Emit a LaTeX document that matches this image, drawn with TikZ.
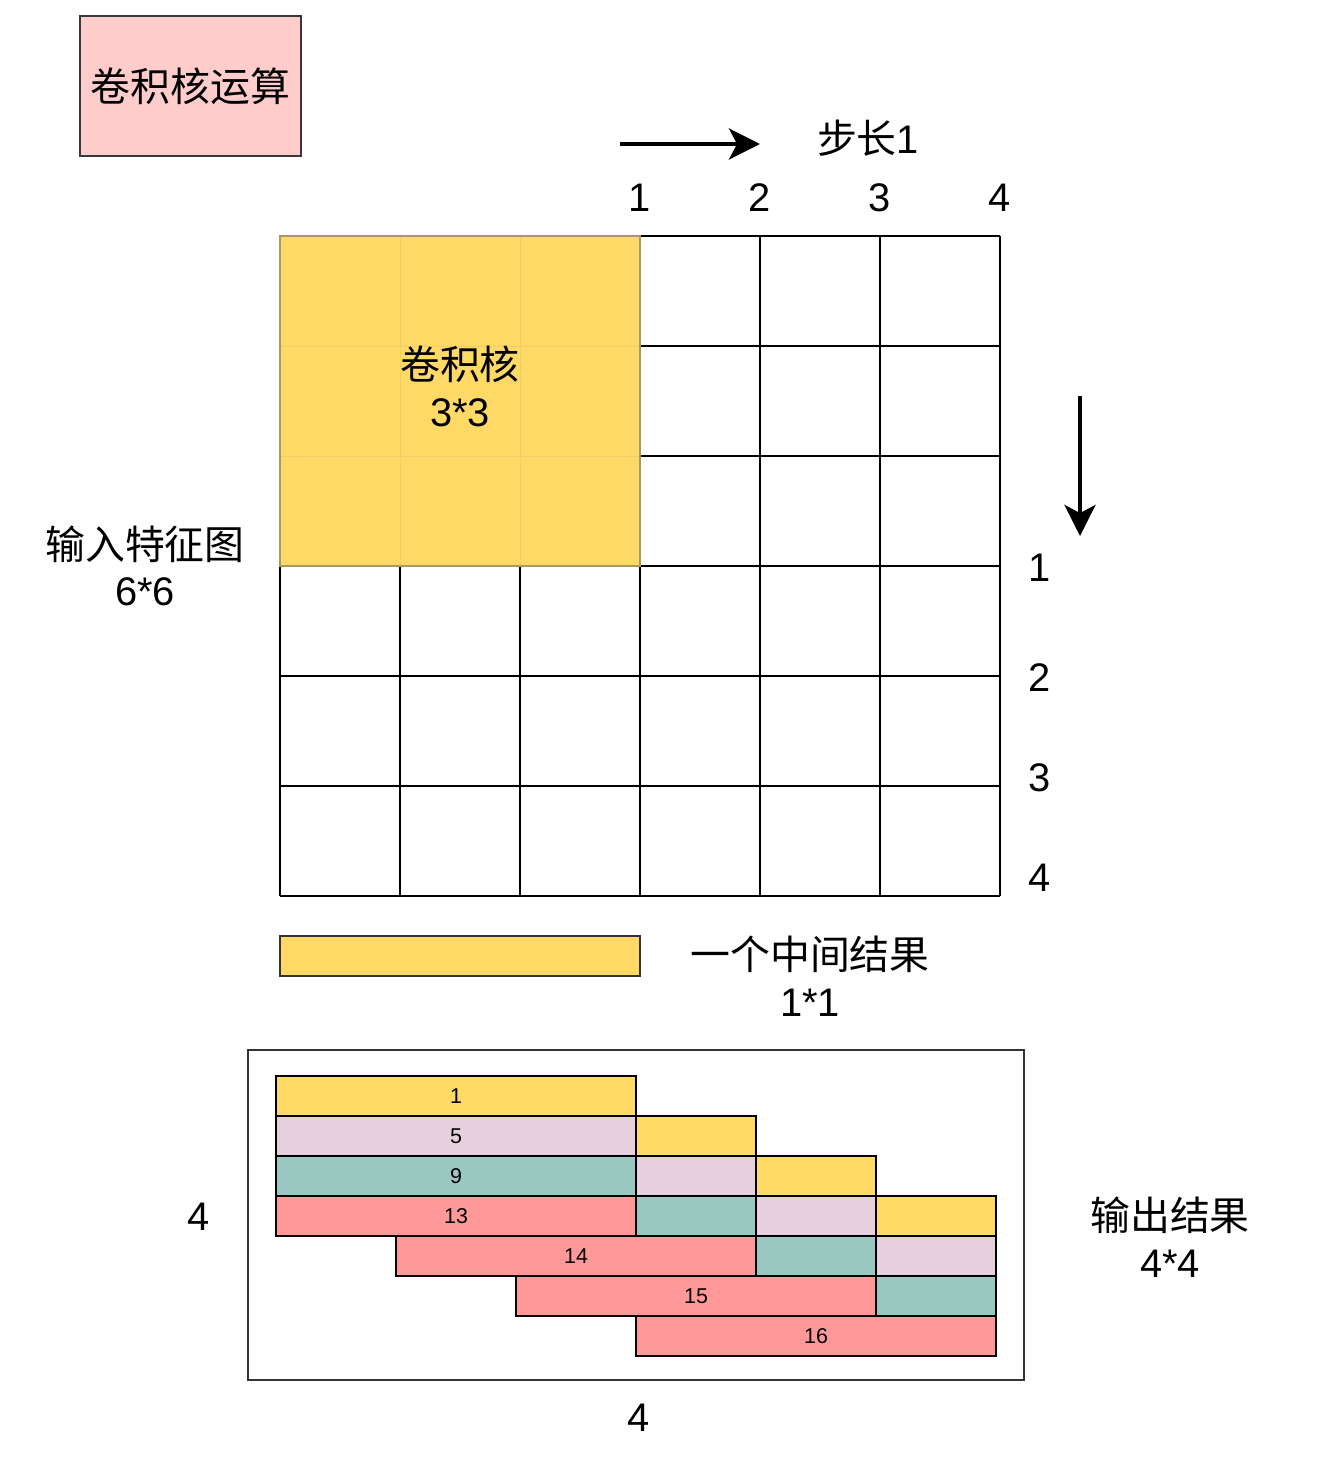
\documentclass[tikz,border=0pt]{standalone}
\usepackage{fontspec}
\setmainfont{Liberation Sans}
\newfontfamily\cjk{Noto Sans CJK SC}
\usetikzlibrary{arrows.meta}
\definecolor{pinkfill}{HTML}{FFCCCC}
\definecolor{pinkline}{HTML}{36393D}
\definecolor{cyel}{HTML}{FFD966}
\definecolor{kerninner}{HTML}{F0CE68}
\definecolor{kernouter}{HTML}{A89A5E}
\definecolor{clav}{HTML}{E6D0DE}
\definecolor{cteal}{HTML}{9AC7BF}
\definecolor{cred}{HTML}{FF9999}
\definecolor{boxline}{HTML}{333333}
\begin{document}
\begin{tikzpicture}[x=0.02cm,y=-0.02cm,
  big/.style={font=\fontsize{22.7}{26.6}\selectfont, inner sep=0pt, align=center},
  small/.style={font=\fontsize{12.2}{14}\selectfont, inner sep=0pt},
  gridline/.style={line width=1.1pt, black},
  barline/.style={line width=1.1pt, black},
  bigarrow/.style={line width=2.3pt, -{Stealth[length=0.62cm, width=0.62cm, inset=0.16cm]}}]
\useasboundingbox (0,0) rectangle (1318,1457);
% title box
\node[big, draw=pinkline, fill=pinkfill, line width=1.1pt, minimum width=4.42cm, minimum height=2.8cm] (title) at (190.5,86) {{\cjk 卷积核运算}};
% stride arrow
\coordinate (sa) at (620,144);
\coordinate (sb) at (760,144);
\draw[bigarrow] (sa) -- (sb);
\node[big] (stride) at (868,138) {{\cjk 步长}1};
% column labels
\foreach \i/\xx in {1/640,2/760,3/880,4/1000}
  \node[big] (col\i) at (\xx,198) {\i};
% grid
\foreach \xx in {280,400,...,1000}
  \draw[gridline] (\xx,236) -- (\xx,896);
\foreach \yy in {236,346,456,566,676,786,896}
  \draw[gridline] (280,\yy) -- (1000,\yy);
% kernel
\fill[cyel] (280,236) rectangle (640,566);
\foreach \xx in {400,520}
  \draw[kerninner, line width=0.5pt] (\xx,236) -- (\xx,566);
\foreach \yy in {346,456}
  \draw[kerninner, line width=0.5pt] (280,\yy) -- (640,\yy);
\draw[kernouter, line width=1.1pt] (280,236) rectangle (640,566);
\node[big] (kernel) at (460,386) {{\cjk 卷积核}\\3*3};
% down arrow
\coordinate (da) at (1080,396);
\coordinate (db) at (1080,536);
\draw[bigarrow] (da) -- (db);
% row labels
\foreach \i/\yy in {1/568,2/678,3/778,4/878}
  \node[big] (row\i) at (1040,\yy) {\i};
% input label
\node[big] (input) at (145,566) {{\cjk 输入特征图}\\6*6};
% intermediate result
\draw[barline, draw=boxline, fill=cyel] (280,936) rectangle (640,976);
\node[inner sep=0pt] (mid) at (460,956) {};
\node[big] (midlab) at (810,976) {{\cjk 一个中间结果}\\1*1};
% output box
\draw[line width=1.1pt, boxline] (248,1050) rectangle (1024,1380);
\foreach \xa/\xb/\ya/\col/\lab/\nm in {
  276/636/1076/cyel/1/ba,
  276/636/1116/clav/5/bb,
  636/756/1116/cyel//bc,
  276/636/1156/cteal/9/bd,
  636/756/1156/clav//be,
  756/876/1156/cyel//bf,
  276/636/1196/cred/13/bg,
  636/756/1196/cteal//bh,
  756/876/1196/clav//bi,
  876/996/1196/cyel//bj,
  396/756/1236/cred/14/bk,
  756/876/1236/cteal//bl,
  876/996/1236/clav//bm,
  516/876/1276/cred/15/bn,
  876/996/1276/cteal//bo,
  636/996/1316/cred/16/bp}{
  \draw[barline, fill=\col] (\xa,\ya) rectangle (\xb,{\ya+40});
  \node[small] (\nm) at ({(\xa+\xb)/2},{\ya+20}) {\lab};
}
\node[big] (fourleft) at (199,1217) {4};
\node[big] (fourbottom) at (639,1418) {4};
\node[big] (output) at (1170,1237) {{\cjk 输出结果}\\4*4};
\end{tikzpicture}
\end{document}
